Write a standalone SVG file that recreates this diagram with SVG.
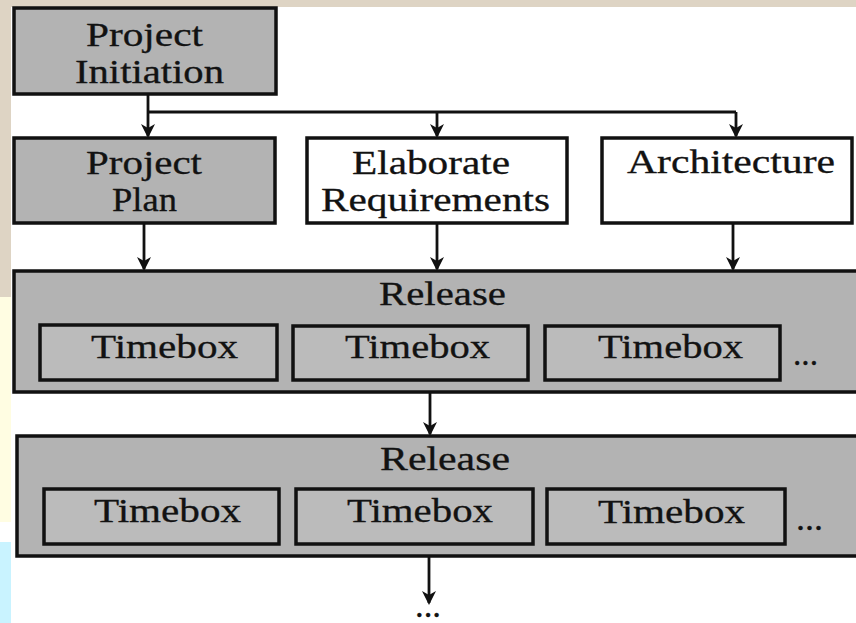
<svg xmlns="http://www.w3.org/2000/svg" width="856" height="623" viewBox="0 0 856 623">
  <defs>
    <style>
      .box { fill: #b3b3b3; stroke: #111111; stroke-width: 3.5; }
      .wbox { fill: #ffffff; stroke: #111111; stroke-width: 3.5; }
      .tbox { fill: #bbbbbb; stroke: #111111; stroke-width: 3.5; }
      .lbl { font-family: "Liberation Serif", "Times New Roman", serif; font-size: 33px; fill: #121212; stroke: #121212; stroke-width: 0.3; }
      .conn { fill: none; stroke: #111111; stroke-width: 2.8; }
    </style>
    <marker id="arr" markerUnits="userSpaceOnUse" markerWidth="16" markerHeight="16" refX="12" refY="8" orient="auto">
      <path d="M0,1 L14,8 L0,15 L4,8 z" fill="#111111"/>
    </marker>
  </defs>

  <!-- background -->
  <rect x="0" y="0" width="856" height="623" fill="#ffffff"/>
  <rect x="0" y="0" width="856" height="7" fill="#ded4c4"/>
  <rect x="0" y="0" width="11" height="297" fill="#ded4c4"/>
  <rect x="0" y="297" width="11" height="225" fill="#fffde2"/>
  <rect x="0" y="542" width="11" height="81" fill="#c9f3ff"/>

  <g id="connectors">
    <line class="conn" x1="148" y1="94" x2="148" y2="136" marker-end="url(#arr)"/>
    <polyline class="conn" points="148,112 736,112"/>
    <line class="conn" x1="437" y1="112" x2="437" y2="136" marker-end="url(#arr)"/>
    <line class="conn" x1="736" y1="112" x2="736" y2="136" marker-end="url(#arr)"/>
    <line class="conn" x1="144" y1="223" x2="144" y2="269" marker-end="url(#arr)"/>
    <line class="conn" x1="437" y1="223" x2="437" y2="269" marker-end="url(#arr)"/>
    <line class="conn" x1="733" y1="223" x2="733" y2="269" marker-end="url(#arr)"/>
    <line class="conn" x1="430" y1="392" x2="430" y2="434" marker-end="url(#arr)"/>
    <line class="conn" x1="429" y1="556" x2="429" y2="603" marker-end="url(#arr)"/>
  </g>

  <g id="project-initiation">
    <rect class="box" x="14" y="8" width="262" height="86"/>
    <text class="lbl" x="86" y="46" textLength="117" lengthAdjust="spacingAndGlyphs">Project</text>
    <text class="lbl" x="75" y="83" textLength="149" lengthAdjust="spacingAndGlyphs">Initiation</text>
  </g>

  <g id="project-plan">
    <rect class="box" x="14" y="138" width="261" height="85"/>
    <text class="lbl" x="86" y="174" textLength="116" lengthAdjust="spacingAndGlyphs">Project</text>
    <text class="lbl" x="112" y="211" textLength="65" lengthAdjust="spacingAndGlyphs">Plan</text>
  </g>

  <g id="elaborate-requirements">
    <rect class="wbox" x="307" y="138" width="260" height="85"/>
    <text class="lbl" x="352" y="174" textLength="158" lengthAdjust="spacingAndGlyphs">Elaborate</text>
    <text class="lbl" x="321" y="211" textLength="229" lengthAdjust="spacingAndGlyphs">Requirements</text>
  </g>

  <g id="architecture">
    <rect class="wbox" x="602" y="138" width="250" height="85"/>
    <text class="lbl" x="627" y="173" textLength="208" lengthAdjust="spacingAndGlyphs">Architecture</text>
  </g>

  <g id="release-1">
    <rect class="box" x="14" y="271" width="850" height="121"/>
    <text class="lbl" x="379" y="305" textLength="127" lengthAdjust="spacingAndGlyphs">Release</text>
    <g id="timebox-1-1">
      <rect class="tbox" x="40" y="325" width="237" height="55"/>
      <text class="lbl" x="91" y="358" textLength="147" lengthAdjust="spacingAndGlyphs">Timebox</text>
    </g>
    <g id="timebox-1-2">
      <rect class="tbox" x="293" y="326" width="235" height="54"/>
      <text class="lbl" x="345" y="358" textLength="145" lengthAdjust="spacingAndGlyphs">Timebox</text>
    </g>
    <g id="timebox-1-3">
      <rect class="tbox" x="545" y="326" width="235" height="54"/>
      <text class="lbl" x="598" y="358" textLength="145" lengthAdjust="spacingAndGlyphs">Timebox</text>
    </g>
    <text class="lbl" x="793" y="365" textLength="25" lengthAdjust="spacingAndGlyphs">...</text>
  </g>

  <g id="release-2">
    <rect class="box" x="17" y="436" width="850" height="120"/>
    <text class="lbl" x="380" y="470" textLength="130" lengthAdjust="spacingAndGlyphs">Release</text>
    <g id="timebox-2-1">
      <rect class="tbox" x="44" y="489" width="235" height="55"/>
      <text class="lbl" x="94" y="522" textLength="147" lengthAdjust="spacingAndGlyphs">Timebox</text>
    </g>
    <g id="timebox-2-2">
      <rect class="tbox" x="296" y="489" width="237" height="55"/>
      <text class="lbl" x="347" y="522" textLength="146" lengthAdjust="spacingAndGlyphs">Timebox</text>
    </g>
    <g id="timebox-2-3">
      <rect class="tbox" x="547" y="489" width="238" height="55"/>
      <text class="lbl" x="598" y="523" textLength="147" lengthAdjust="spacingAndGlyphs">Timebox</text>
    </g>
    <text class="lbl" x="796" y="530" textLength="27" lengthAdjust="spacingAndGlyphs">...</text>
  </g>

  <g id="continuation">
    <text class="lbl" x="415" y="617" textLength="26" lengthAdjust="spacingAndGlyphs">...</text>
  </g>
</svg>
